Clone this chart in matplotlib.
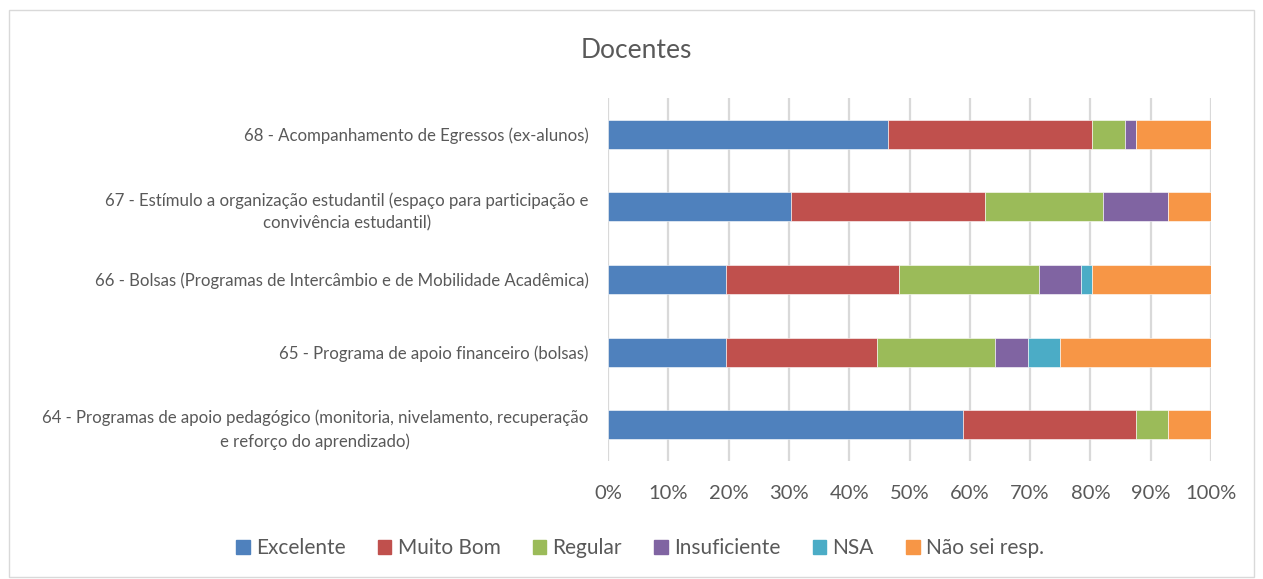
import matplotlib.pyplot as plt
import matplotlib.patches as mpatches
import numpy as np

plt.rcParams['font.family'] = ['Lato', 'DejaVu Sans']

# categories bottom to top
categories = [
    "64 - Programas de apoio pedagógico (monitoria, nivelamento, recuperação\ne reforço do aprendizado)",
    "65 - Programa de apoio financeiro (bolsas)",
    "66 - Bolsas (Programas de Intercâmbio e de Mobilidade Acadêmica)",
    "67 - Estímulo a organização estudantil (espaço para participação e\nconvivência estudantil)",
    "68 - Acompanhamento de Egressos (ex-alunos)",
]
series = ["Excelente", "Muito Bom", "Regular", "Insuficiente", "NSA", "Não sei resp."]
excelente = [58.9, 19.6, 19.6, 30.4, 46.4]
muito_bom = [28.6, 25.0, 28.6, 32.1, 33.9]
regular = [5.4, 19.6, 23.2, 19.6, 5.4]
insuficiente = [0.0, 5.4, 7.1, 10.7, 1.8]
nsa = [0.0, 5.4, 1.8, 0.0, 0.0]
nao_sei = [7.1, 25.0, 19.7, 7.2, 12.5]
colors = ["#4F81BD", "#C0504D", "#9BBB59", "#8064A2", "#4BACC6", "#F79646"]
xticks = [0, 10, 20, 30, 40, 50, 60, 70, 80, 90, 100]

values = np.array([excelente, muito_bom, regular, insuficiente, nsa, nao_sei])
values = values / values.sum(axis=0) * 100

fig = plt.figure(figsize=(12.63, 5.79), dpi=100)
ax = fig.add_axes([608 / 1263, 1 - 461 / 579, (1211 - 608) / 1263, (461 - 98) / 579])

y = np.arange(len(categories))
left = np.zeros(len(categories))
for i, name in enumerate(series):
    ax.barh(y, values[i], left=left, height=0.4, color=colors[i], label=name,
            edgecolor="#ffffff", linewidth=0.4, zorder=3)
    left += values[i]

ax.set_xlim(0, 100)
ax.set_ylim(-0.5, 4.5)
ax.set_xticks(xticks)
ax.set_xticklabels([f"{t}%" for t in xticks], fontsize=14.5, color="#595959")
ax.set_yticks(y)
ax.set_yticklabels(categories, fontsize=12.1, color="#595959",
                   multialignment="center", linespacing=1.5)
ax.tick_params(axis="both", length=0)
ax.tick_params(axis="y", pad=14)
ax.tick_params(axis="x", pad=17)
ax.grid(axis="x", color="#D9D9D9", linewidth=1.6, zorder=0)
for s in ax.spines.values():
    s.set_visible(False)

fig.text(636 / 1263, 1 - 50 / 579, "Docentes", ha="center", va="center",
         fontsize=19, color="#595959")

handles = [mpatches.Patch(color=c, label=n) for c, n in zip(colors, series)]
fig.legend(handles=handles, loc="center", bbox_to_anchor=(640 / 1263, 1 - 548 / 579),
           ncol=6, frameon=False, fontsize=15, handlelength=0.65, handleheight=0.65,
           handletextpad=0.3, columnspacing=1.55, labelcolor="#595959")

fig.patches.append(mpatches.Rectangle((9 / 1263, 2 / 579), 1245 / 1263, 567 / 579,
                                      transform=fig.transFigure, fill=False,
                                      edgecolor="#D9D9D9", linewidth=1))

fig.savefig("out.png", dpi=100, facecolor="white")
